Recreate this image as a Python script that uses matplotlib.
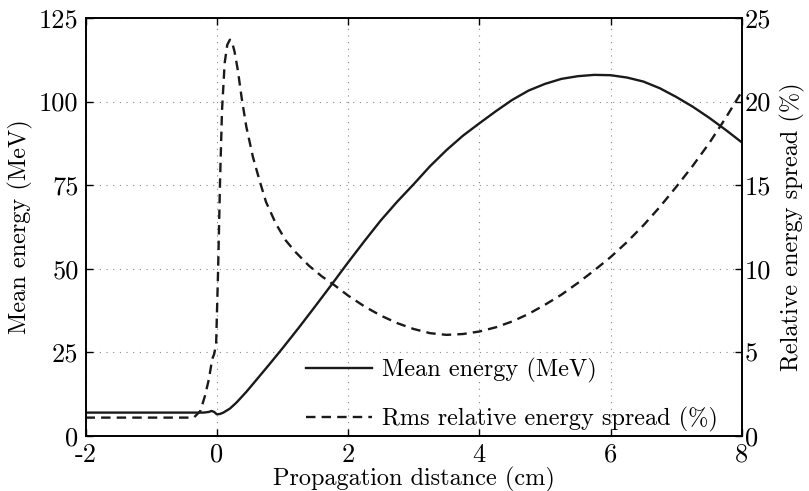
# libraries
import numpy as np
import matplotlib.pyplot as plt

plt.rcParams['font.family'] = ['cmr10', 'DejaVu Serif']
plt.rcParams['axes.unicode_minus'] = False
plt.rcParams['font.size'] = 17.5

# mean energy (MeV), solid line, left axis
x_energy = [-2, -1, -0.5, -0.2, -0.12, -0.08, -0.04, 0, 0.05, 0.1, 0.2, 0.3, 0.45,
            0.6, 0.8, 1.0, 1.25, 1.5, 1.75, 2.0, 2.25, 2.5, 2.75, 3.0, 3.25, 3.5,
            3.75, 4.0, 4.25, 4.5, 4.75, 5.0, 5.25, 5.5, 5.75, 6.0, 6.25, 6.5, 6.75,
            7.0, 7.25, 7.5, 7.75, 8.0]
energy = [7.0, 7.0, 7.0, 7.0, 7.2, 7.5, 7.2, 6.5, 6.6, 7.0, 8.2, 10.0, 13.2,
          16.7, 21.4, 26.2, 32.4, 38.8, 45.3, 51.9, 58.3, 64.5, 70.1, 75.3, 80.7, 85.5,
          89.8, 93.5, 97.1, 100.5, 103.3, 105.3, 106.8, 107.6, 108.0, 107.9, 107.2, 106.0, 104.0,
          101.4, 98.5, 95.2, 91.6, 87.8]

# rms relative energy spread (%), dashed line, right axis
x_spread = [-2, -1, -0.35, -0.25, -0.18, -0.12, -0.07, -0.04, -0.01, 0.02, 0.05, 0.08,
            0.12, 0.16, 0.2, 0.23, 0.27, 0.32, 0.38, 0.45, 0.55, 0.65, 0.75, 0.9,
            1.05, 1.2, 1.4, 1.6, 1.8, 2.0, 2.25, 2.5, 2.75, 3.0, 3.25, 3.5, 3.75,
            4.0, 4.25, 4.5, 4.75, 5.0, 5.25, 5.5, 5.75, 6.0, 6.25, 6.5, 6.75, 7.0,
            7.25, 7.5, 7.75, 8.0]
spread = [1.1, 1.1, 1.1, 1.5, 2.4, 3.4, 4.6, 4.9, 5.5, 9.9, 15.3, 19.5,
          22.3, 23.4, 23.7, 23.6, 23.0, 21.9, 20.2, 18.5, 16.7, 15.3, 14.0, 12.7,
          11.7, 11.0, 10.2, 9.55, 9.0, 8.4, 7.75, 7.2, 6.75, 6.4, 6.15, 6.05, 6.1,
          6.25, 6.5, 6.85, 7.3, 7.85, 8.45, 9.15, 9.9, 10.7, 11.6, 12.6, 13.7, 14.9,
          16.15, 17.5, 19.0, 20.6]

x_ticks = [-2, 0, 2, 4, 6, 8]
left_ticks = [0, 25, 50, 75, 100, 125]
right_ticks = [0, 5, 10, 15, 20, 25]

fig = plt.figure(figsize=(8.09, 4.91), dpi=100)
ax = fig.add_axes([0.1057, 0.112, 0.8113, 0.8513])
ax2 = ax.twinx()

l1, = ax.plot(x_energy, energy, color='#1a1a1a', lw=1.7, label='Mean energy (MeV)')
l2, = ax2.plot(x_spread, spread, color='#1a1a1a', lw=1.7, linestyle=(0, (4, 2.6)),
               label='Rms relative energy spread (%)')

ax.set_xlim(-2, 8)
ax.set_ylim(0, 125)
ax2.set_ylim(0, 25)
ax.set_xticks(x_ticks)
ax.set_xticklabels([str(t) for t in x_ticks])
ax.set_yticks(left_ticks)
ax2.set_yticks(right_ticks)

ax.grid(True, linestyle=(0, (1, 5)), color='#888888', lw=0.8)
ax.tick_params(direction='in', top=True, length=5, width=1, pad=5, labelsize=19)
ax2.tick_params(direction='in', length=5, width=1, pad=2, labelsize=19)
for a in (ax, ax2):
    for s in a.spines.values():
        s.set_linewidth(1.2)

ax.set_xlabel('Propagation distance (cm)', labelpad=0)
ax.set_ylabel('Mean energy (MeV)', labelpad=4)
ax2.set_ylabel('Relative energy spread (%)', labelpad=6)

ax2.legend(handles=[l1, l2], loc='lower left', bbox_to_anchor=(0.303, -0.043),
           frameon=False, handlelength=2.7, handletextpad=0.4, labelspacing=1.0)

plt.savefig('out.png', dpi=100)
